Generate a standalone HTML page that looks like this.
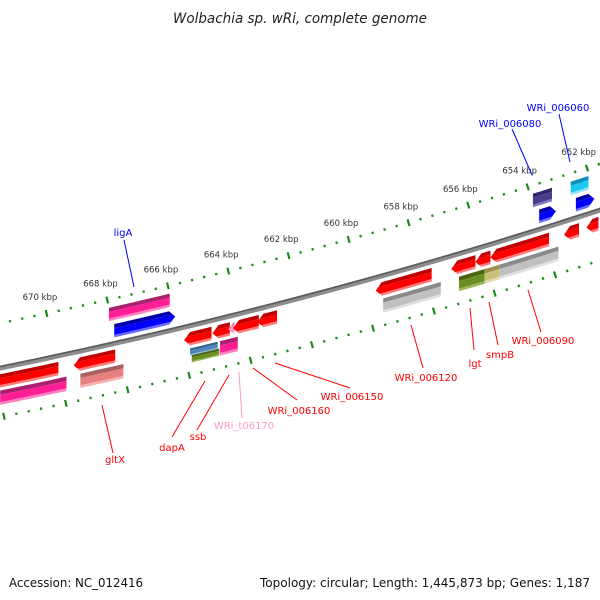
<!DOCTYPE html>
<html><head><meta charset="utf-8">
<style>
html,body{margin:0;padding:0;background:#fff;}
svg{display:block;font-family:"DejaVu Sans","Liberation Sans",sans-serif;}
</style></head>
<body>
<svg id="map" width="600" height="600" viewBox="0 0 600 600">
  <rect x="0" y="0" width="600" height="600" fill="#fff"/>
  <text x="300" y="23" text-anchor="middle" font-size="14" font-style="italic" fill="#222" textLength="254" lengthAdjust="spacingAndGlyphs">Wolbachia sp. wRi, complete genome</text>
  <g id="ticks"></g>
  <g id="backbone"></g>
  <g id="feats"></g>
  <g id="labels"></g>
  <text x="9" y="587" font-size="12" fill="#111" textLength="134" lengthAdjust="spacingAndGlyphs">Accession: NC_012416</text>
  <text x="590" y="587" text-anchor="end" font-size="12" fill="#111" textLength="330" lengthAdjust="spacingAndGlyphs">Topology: circular; Length: 1,445,873 bp; Genes: 1,187</text>
</svg>
<script>
// ---- data ----
const featStart = [672.0, 672.0, 669.5, 669.4, 665.9, 665.8, 665.8, 664.97, 664.85, 664.45, 664.3, 663.5, 659.6, 659.5, 657.1, 656.3, 657.0, 656.15, 655.8, 655.65, 653.35, 652.6, 668.0, 668.05, 653.97, 653.93, 652.7, 652.7];
const featEnd   = [670.0, 669.85, 668.15, 668.0, 665.0, 664.9, 664.9, 664.4, 664.27, 664.25, 663.45, 662.85, 657.75, 657.6, 656.3, 655.8, 656.15, 655.65, 653.85, 653.7, 652.85, 652.2, 666.0, 666.05, 653.33, 653.37, 652.1, 652.08];
const featTrack = ["o1","o2","o1","o2","o1","o2a","o2b","o1","o2","o1","o1","o1","o1","o2","o1","o1","o2","o2","o1","o2","o1","o1","i1","i2","i2","i1","i2","i1"];
const featColor = ["red","magenta","red","salmon","red","steel","olive","red","magenta","pink","red","red","red","gray","red","red","olive","khaki","red","gray","red","red","blue","magenta","purple","blue","cyan","blue"];
const featArrow = ["none","none","start","none","start","none","none","start","none","start","start","start","start","none","start","start","none","none","start","none","start","start","end","none","none","end","none","end"];

const labelText  = ["ligA","WRi_006080","WRi_006060","gltX","dapA","ssb","WRi_t06170","WRi_006160","WRi_006150","WRi_006120","lgt","smpB","WRi_006090"];
const labelColor = ["#0000ff","#0000ff","#0000ff","#ff0000","#ff0000","#ff0000","#ff99cc","#ff0000","#ff0000","#ff0000","#ff0000","#ff0000","#ff0000"];
const labelX     = [123,510,558,115,172,198,244,299,352,426,475,500,543];
const labelY     = [236,127,111,463,451,440,429,414,400,381,367,358,344];
const lineX1     = [124,512,559,113,172,197,242,297,350,423,474,498,541];
const lineY1     = [240,129,114,453,437,430,418,400,388,368,350,345,332];
const lineX2     = [134,532,570,102,205,229,239,253,275,411,470,489,528];
const lineY2     = [287,175,162,405,381,375,372,368,363,325,308,302,290];

const tickFrom = 674, tickTo = 650, tickStep = 0.4;

// ---- geometry ----
const CX=-1107, CY=-5053, R0=5533;
const PHI0=0.2344, BP0=666, K=0.005667;
function phi(bp){return PHI0+(BP0-bp)*K;}
function pt(bp,r){const p=phi(bp);return [CX+r*Math.sin(p), CY+r*Math.cos(p)];}
const trackR = {i2:[-36,-23], i1:[-19,-6], o1:[6,19], o2:[22,36], o2a:[22,29], o2b:[29,36]};
const palette = {
  red:["#c00000","#ff0000","#ff7a7a"],
  magenta:["#a8206e","#ff1e96","#ff80c0"],
  salmon:["#a86060","#e88080","#f4b0b0"],
  steel:["#2f5f8a","#4a86b8","#8ab4d8"],
  olive:["#4a6412","#6b8e23","#9ab85a"],
  khaki:["#9a9250","#c8c078","#e0dab0"],
  gray:["#8a8a8a","#c0c0c0","#e0e0e0"],
  pink:["#e070b0","#ff99cc","#ffc8e4"],
  blue:["#0000a8","#0000ff","#6a6aff"],
  purple:["#2e2868","#483d8b","#8078c0"],
  cyan:["#0a90c0","#1ec8f0","#90e4fa"]
};
const NS="http://www.w3.org/2000/svg";
function el(tag,attrs,parent){const e=document.createElementNS(NS,tag);for(const k in attrs)e.setAttribute(k,attrs[k]);parent.appendChild(e);return e;}
function arcPts(b1,b2,r,n){const a=[];for(let i=0;i<=n;i++){a.push(pt(b1+(b2-b1)*i/n,r));}return a;}
// vertical-offset point: on the track mid-line at bp, shifted vertically
function vp(bp,rm,r){const b=pt(bp,rm);return [b[0], b[1]+(r-rm)/Math.cos(phi(bp))];}
function vArc(b1,b2,rm,r,n){const a=[];for(let i=0;i<=n;i++){a.push(vp(b1+(b2-b1)*i/n,rm,r));}return a;}
function toPath(p){return "M"+p.map(q=>q[0].toFixed(2)+","+q[1].toFixed(2)).join("L")+"Z";}
function vBand(b1,b2,rm,ra,rb){return toPath(vArc(b1,b2,rm,ra,8).concat(vArc(b2,b1,rm,rb,8)));}

// ---- backbone ----
const bb=document.getElementById('backbone');
const bbStart=675, bbEnd=649;
const p1=el('path',{d:"M"+arcPts(bbStart,bbEnd,R0,40).map(q=>q.join(",")).join("L"),fill:"none",stroke:"#8c8c8c","stroke-width":5},bb);


const p2=el('path',{d:"M"+arcPts(bbStart,bbEnd,R0-1.5,40).map(q=>q.join(",")).join("L"),fill:"none",stroke:"#5a5a5a","stroke-width":1.5},bb);



// ---- ticks ----
const tg=document.getElementById('ticks');
const RIN=R0-44, ROUT=R0+48;
for(let i=0;;i++){
  const bp=tickFrom-i*tickStep; if(bp<tickTo-1e-6)break;
  const major=Math.abs(bp-Math.round(bp))<1e-6 && Math.round(bp)%2===0;
  const half=major?3.5:1.2;
  [RIN,ROUT].forEach((r,j)=>{
    const a=pt(bp,r-half), b=pt(bp,r+half);
    const t=el('line',{x1:a[0],y1:a[1],x2:b[0],y2:b[1],stroke:"#1b8a1b","stroke-width":2.2},tg);
    
    
  });
  if(major){
    const c=pt(bp,RIN-17);
    const tx=el('text',{x:c[0]-3,y:c[1]+3,"text-anchor":"middle","font-size":"8.5",fill:"#333"},tg);
    tx.textContent=Math.round(bp)+" kbp";
    
    
  }
}

// ---- features ----
const fg=document.getElementById('feats');
const defs=el('defs',{},fg);
for(let i=0;i<featStart.length;i++){
  const b1=featStart[i], b2=featEnd[i];
  const [o1,o2]=trackR[featTrack[i]];
  const ra=R0+o1, rb=R0+o2, rm=(ra+rb)/2;
  const head=0.2;
  let shape;
  if(featArrow[i]==="start"){
    const t=pt(b1,rm);
    shape=toPath([t].concat(vArc(b1-head,b2,rm,ra,6)).concat(vArc(b2,b1-head,rm,rb,6)));
  } else if(featArrow[i]==="end"){
    const t=pt(b2,rm);
    shape=toPath(vArc(b1,b2+head,rm,ra,6).concat([t]).concat(vArc(b2+head,b1,rm,rb,6)));
  } else shape=vBand(b1,b2,rm,ra,rb);
  const cp=el('clipPath',{id:"cp"+i},defs);
  el('path',{d:shape},cp);
  const g=el('g',{"clip-path":"url(#cp"+i+")"},fg);
  
  
  const col=palette[featColor[i]], h=rb-ra;
  const lo=Math.max(b1,b2)+0.05, hi=Math.min(b1,b2)-0.05;
  el('path',{d:vBand(lo,hi,rm,ra-2,ra+h*0.3),fill:col[0]},g);
  el('path',{d:vBand(lo,hi,rm,ra+h*0.3,ra+h*0.82),fill:col[1]},g);
  el('path',{d:vBand(lo,hi,rm,ra+h*0.82,rb+2),fill:col[2]},g);
}

// ---- labels ----
const lg=document.getElementById('labels');
for(let i=0;i<labelText.length;i++){
  const l=el('line',{x1:lineX1[i],y1:lineY1[i],x2:lineX2[i],y2:lineY2[i],stroke:labelColor[i],"stroke-width":1},lg);
  
  
  const t=el('text',{x:labelX[i],y:labelY[i],"text-anchor":"middle","font-size":"10",fill:labelColor[i]},lg);
  t.textContent=labelText[i];
  
  
}
</script>
</body></html>
